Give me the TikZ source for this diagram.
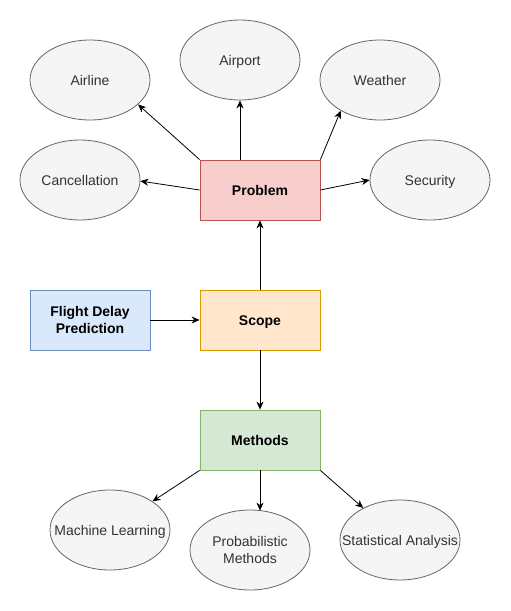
\documentclass[tikz,border=0pt]{standalone}
\usepackage{fontspec}
\setmainfont{Liberation Sans}
\usetikzlibrary{arrows.meta,shapes.geometric}
\definecolor{ellfill}{HTML}{F5F5F5}
\definecolor{elldraw}{HTML}{666666}
\definecolor{elltext}{HTML}{333333}
\definecolor{redfill}{HTML}{F8CECC}
\definecolor{reddraw}{HTML}{B85450}
\definecolor{bluefill}{HTML}{DAE8FC}
\definecolor{bluedraw}{HTML}{6C8EBF}
\definecolor{orangefill}{HTML}{FFE6CC}
\definecolor{orangedraw}{HTML}{D79B00}
\definecolor{greenfill}{HTML}{D5E8D4}
\definecolor{greendraw}{HTML}{82B366}
\tikzset{
  oval/.style={ellipse, draw=elldraw, fill=ellfill, line width=0.8pt,
    minimum width=120pt, minimum height=80pt, inner sep=0pt},
  ovaltext/.style={text=elltext, inner sep=0pt, align=center,
    font=\fontsize{14}{16.7}\selectfont},
  oneline/.style={text height=10.2pt, text depth=0pt},
  box/.style={rectangle, line width=0.8pt, minimum width=120pt, minimum height=60pt,
    inner sep=0pt, align=center, font=\fontsize{14}{16.7}\selectfont\bfseries},
  conn/.style={line width=0.8pt, -{Stealth[length=8pt,width=7pt,inset=2.5pt]}}
}
\begin{document}
\begin{tikzpicture}[x=1pt,y=-1pt]
\useasboundingbox (0,0) rectangle (511,611);
\node[oval, label={[ovaltext,oneline]center:Airline}] (airline) at (90,80) {};
\node[oval, label={[ovaltext,oneline]center:Airport}] (airport) at (240,60) {};
\node[oval, label={[ovaltext,oneline]center:Weather}] (weather) at (380,80) {};
\node[oval, label={[ovaltext,oneline]center:Cancellation}] (cancel) at (80,180) {};
\node[oval, label={[ovaltext,oneline]center:Security}] (security) at (430,180) {};
\node[box, oneline, fill=redfill, draw=reddraw] (problem) at (260,190) {Problem};
\node[box, fill=bluefill, draw=bluedraw] (flight) at (90,320) {Flight Delay\\Prediction};
\node[box, oneline, fill=orangefill, draw=orangedraw] (scope) at (260,320) {Scope};
\node[box, oneline, fill=greenfill, draw=greendraw] (methods) at (260,440) {Methods};
\node[oval, label={[ovaltext,oneline]center:Machine Learning}] (ml) at (110,530) {};
\node[oval, label={[ovaltext]center:Probabilistic\\Methods}] (prob) at (250,550) {};
\node[oval, label={[ovaltext,oneline]center:Statistical Analysis}] (stat) at (400,540) {};

\draw[conn] (problem.north west) -- (airline.-27);
\draw[conn] (airport.south |- problem.north) -- (airport.south);
\draw[conn] (problem.north east) -- (weather.-142);
\draw[conn] (problem.west) -- (cancel.-1);
\draw[conn] (problem.east) -- (security.west);
\draw[conn] (scope.north) -- (problem.south);
\draw[conn] (flight.east) -- (scope.west);
\draw[conn] (scope.south) -- (methods.north);
\draw[conn] (methods.south west) -- (ml.34);
\coordinate (pt) at (260,510.6);
\draw[conn] (methods.south) -- (pt);
\draw[conn] (methods.south east) -- (stat.139);
\end{tikzpicture}
\end{document}
